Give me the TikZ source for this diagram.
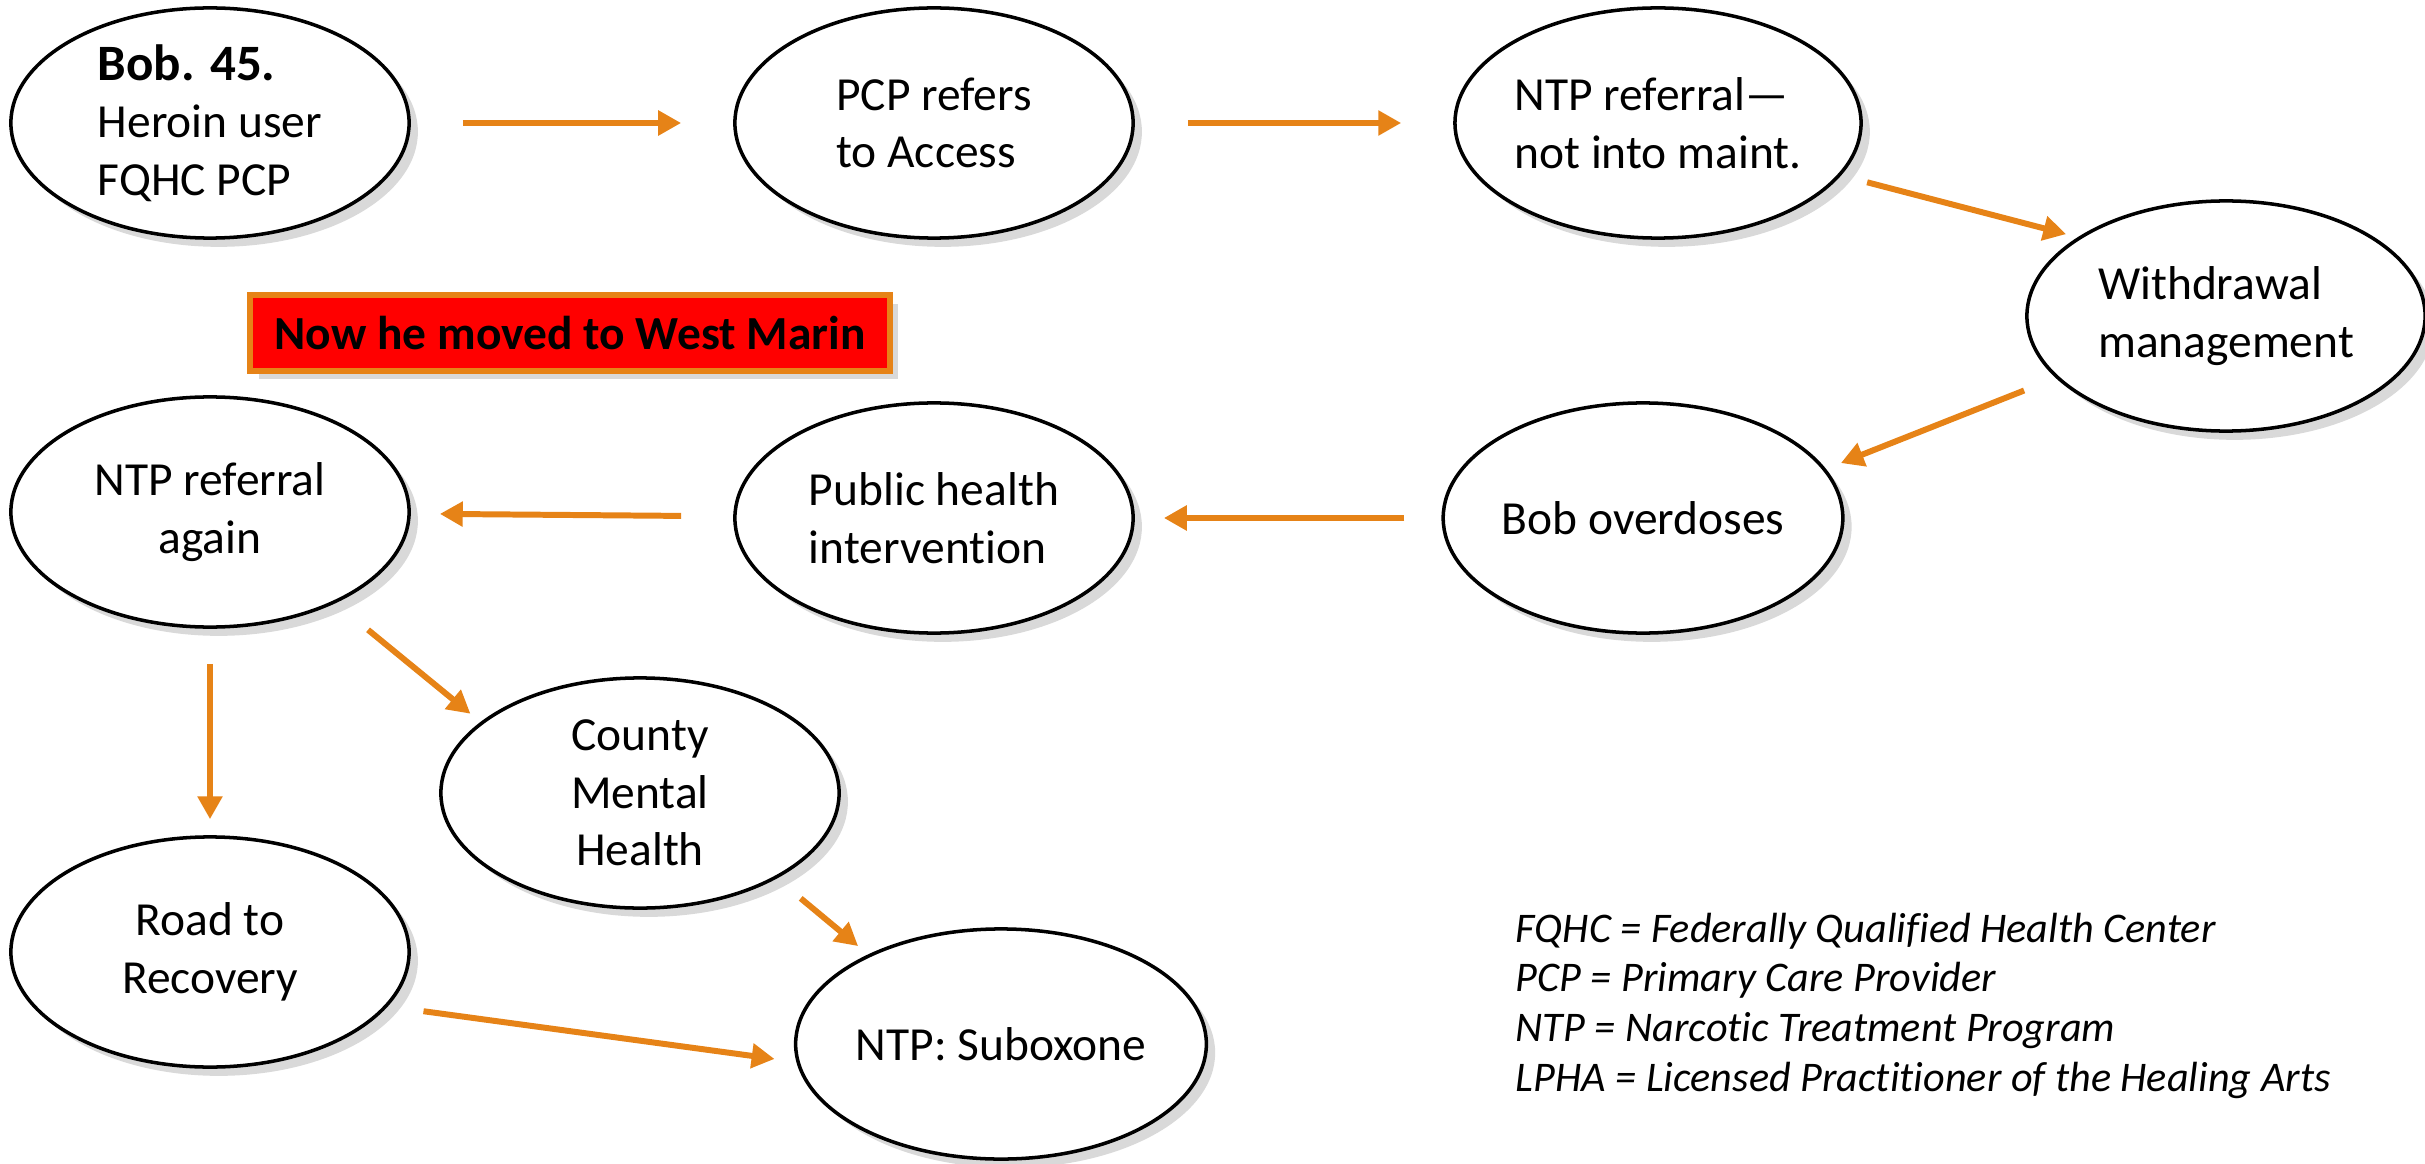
\documentclass[tikz,border=0pt]{standalone}
\usepackage{fontspec}
\setmainfont{Carlito}[RawFeature={-liga;-clig;-calt}]
\usetikzlibrary{shapes.geometric,arrows.meta,shadows}
\definecolor{arroworange}{RGB}{230,131,23}

\begin{document}
\begin{tikzpicture}[x=0.01cm, y=-0.01cm,
    stage/.style={ellipse, draw=black, line width=1pt, fill=white,
        minimum width=3.98cm, minimum height=2.30cm, inner sep=0pt,
        font=\fontsize{13.5}{16.4}\selectfont,
        drop shadow={shadow xshift=2.5pt, shadow yshift=-2.5pt, opacity=0.3}},
    flow/.style={draw=arroworange, line width=1.7pt, -{Triangle[length=6.5pt,width=6.8pt]}},
    banner/.style={draw=arroworange, line width=1.7pt, fill=red,
        minimum width=6.39cm, minimum height=0.75cm, inner sep=0pt,
        font=\fontsize{13.5}{16}\selectfont\bfseries,
        drop shadow={shadow xshift=2.5pt, shadow yshift=-2.5pt, opacity=0.3}},
    legend/.style={font=\fontsize{12}{14.2}\selectfont\itshape, align=left, inner sep=0pt}]
            \useasboundingbox (0,0) rectangle (2425,1164);

            % top row
            \node[stage, align=left] (bob) at (210,123) {\textbf{\fontsize{14.5}{17}\selectfont Bob. 45.}\\Heroin user\\FQHC PCP};
            \node[stage, align=left] (pcp) at (934,123) {PCP refers\\to Access};
            \node[stage, align=left] (ntpref) at (1658,123) {NTP referral---\\not into maint.};
            \node[stage, align=left] (wdraw) at (2226,316) {Withdrawal\\management};

            % middle row
            \node[banner] (moved) at (570,333) {Now he moved to West Marin};
            \node[stage] (overdose) at (1643,518) {Bob overdoses};
            \node[stage, align=left] (pubhealth) at (934,518) {Public health\\intervention};
            \node[stage, align=center] (ntpagain) at (210,512) {NTP referral\\again};

            % bottom
            \node[stage, align=center] (county) at (640,793) {County\\Mental\\Health};
            \node[stage, align=center] (road) at (210,952) {Road to\\Recovery};
            \node[stage] (subox) at (1001,1044) {NTP: Suboxone};

            \node[legend, anchor=north west] (abbrev) at (1515,912) {FQHC = Federally Qualified Health Center\\PCP = Primary Care Provider\\NTP = Narcotic Treatment Program\\LPHA = Licensed Practitioner of the Healing Arts};

            \draw[flow, shorten <=0.52cm, shorten >=0.52cm] (bob) -- (pcp);
            \draw[flow, shorten <=0.53cm, shorten >=0.52cm] (pcp) -- (ntpref);
            \draw[flow, shorten <=0.27cm, shorten >=0.12cm] (ntpref.-16) -- (wdraw.152);
            \draw[flow, shorten <=0.34cm, shorten >=0.16cm] (wdraw.200) -- (overdose.15);
            \draw[flow, shorten <=0.37cm, shorten >=0.29cm] (overdose) -- (pubhealth);
            \draw[flow, shorten <=0.52cm, shorten >=0.29cm] (pubhealth) -- (ntpagain);
            \draw[flow, shorten <=0.35cm, shorten >=0.16cm] (ntpagain) -- (road);
            \draw[flow, shorten <=0.42cm, shorten >=0.13cm] (ntpagain.-36) -- (county.156);
            \draw[flow, shorten <=0.31cm, shorten >=0.13cm] (county.-32) -- (subox.146);
            \draw[flow, shorten <=0.36cm, shorten >=0.22cm] (road.-17) -- (subox.185);
        \end{tikzpicture}
\end{document}
